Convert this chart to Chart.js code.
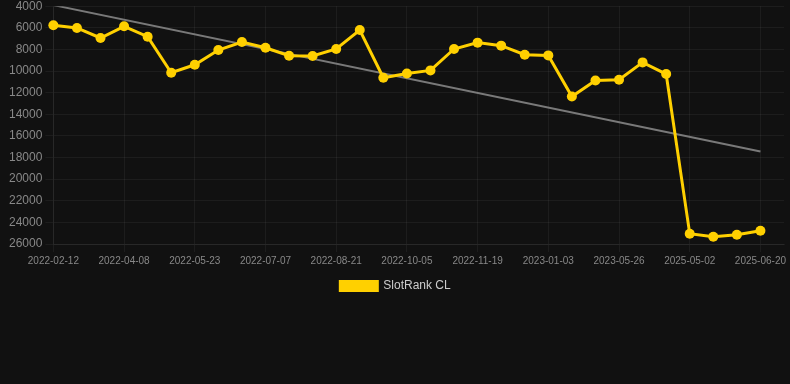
<!DOCTYPE html>
<html>
<head>
<meta charset="utf-8">
<script src="https://cdn.jsdelivr.net/npm/chart.js@4.4.1/dist/chart.umd.min.js"></script>
<style>
  html, body { margin: 0; padding: 0; background: #111111; overflow: hidden; }
  #wrap { width: 790px; height: 312px; position: relative; margin-top: -4px; }
</style>
</head>
<body>
<div id="wrap"><canvas id="rank-chart"></canvas></div>
<script>
// dates of the rank snapshots (every 3rd one shows on the axis)
var dates = [
  '2022-02-12', '2022-03-09', '2022-03-24', '2022-04-08', '2022-04-23', '2022-05-08',
  '2022-05-23', '2022-06-07', '2022-06-22', '2022-07-07', '2022-07-22', '2022-08-06',
  '2022-08-21', '2022-09-05', '2022-09-20', '2022-10-05', '2022-10-20', '2022-11-04',
  '2022-11-19', '2022-12-04', '2022-12-19', '2023-01-03', '2023-02-17', '2023-04-11',
  '2023-05-26', '2023-07-10', '2025-03-18', '2025-05-02', '2025-05-17', '2025-06-01',
  '2025-06-20'
];

// rank values for SlotRank CL
var rankValues = [
  5760, 6010, 6940, 5860, 6820, 10160, 9420, 8060, 7310, 7840, 8580,
  8610, 7960, 6200, 10620, 10220, 9940, 7960, 7370, 7650, 8490,
  8550, 12360, 10870, 10810, 9200, 10280, 25050, 25330, 25140, 24770
];

// trend line end points (first and last snapshot)
var trendStart = 3900;
var trendEnd = 17450;

var yTicks = { min: 4000, max: 26000, step: 2000 };

// one empty slot after the last date, the plot runs a bit past it
var labels = dates.concat(['']);

var trendData = labels.map(function (d, i) {
  if (i === 0) return trendStart;
  if (i === dates.length - 1) return trendEnd;
  return null;
});

var font = 'Helvetica, Arial, "Liberation Sans", sans-serif';

var ctx = document.getElementById('rank-chart');
var chart = new Chart(ctx, {
  type: 'line',
  data: {
    labels: labels,
    datasets: [{
      label: 'SlotRank CL',
      data: rankValues,
      borderColor: '#ffd000',
      backgroundColor: '#ffd000',
      borderWidth: 3,
      pointRadius: 5,
      pointHoverRadius: 6,
      pointBackgroundColor: '#ffd000',
      pointBorderWidth: 0,
      tension: 0
    }, {
      label: 'trend',
      data: trendData,
      spanGaps: true,
      borderColor: 'rgba(140,140,140,0.85)',
      borderWidth: 2,
      pointRadius: 0,
      fill: false
    }]
  },
  options: {
    responsive: true,
    maintainAspectRatio: false,
    animation: false,
    layout: { padding: { top: 0, right: 5, left: 6, bottom: 6 } },
    plugins: {
      legend: {
        position: 'bottom',
        labels: {
          boxWidth: 37,
          boxHeight: 9,
          color: '#cccccc',
          font: { family: font, size: 12 },
          filter: function (item) { return item.text !== 'trend'; }
        }
      },
      tooltip: { enabled: false }
    },
    scales: {
      x: {
        grid: {
          color: function (c) {
            return (c.index % 3 === 0 && c.index < dates.length) ? 'rgba(255,255,255,0.05)' : 'rgba(0,0,0,0)';
          },
          tickLength: 8
        },
        border: { color: 'rgba(255,255,255,0.05)' },
        ticks: {
          autoSkip: false,
          maxRotation: 0,
          color: '#888888',
          font: { family: font, size: 10 },
          callback: function (v, i) {
            return (i % 3 === 0 && i < dates.length) ? dates[i] : '';
          }
        }
      },
      y: {
        reverse: true,
        min: yTicks.min,
        max: yTicks.max,
        grid: { color: 'rgba(255,255,255,0.05)', tickLength: 8 },
        border: { color: 'rgba(255,255,255,0.05)' },
        ticks: {
          stepSize: yTicks.step,
          color: '#888888',
          font: { family: font, size: 12 },
          callback: function (v) { return String(v); }
        }
      }
    }
  }
});
</script>
</body>
</html>
